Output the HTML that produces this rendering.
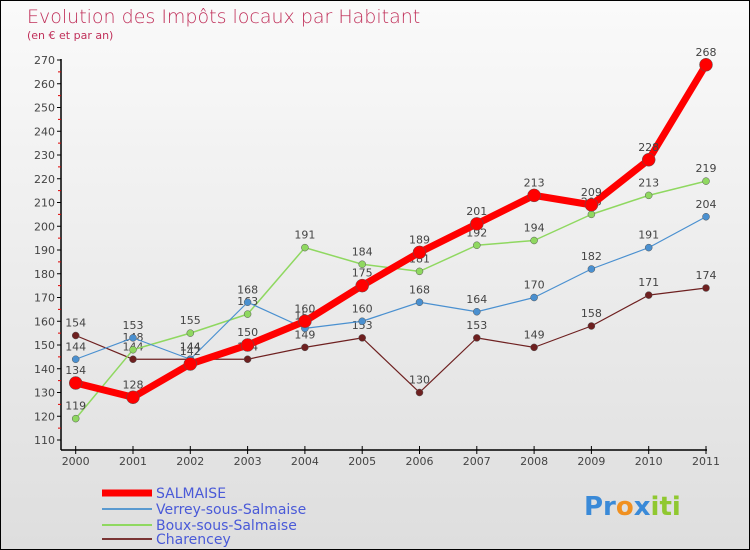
<!DOCTYPE html>
<html><head><meta charset="utf-8"><style>
body{margin:0}
#c{position:relative;width:748px;height:548px;border:1px solid #000;background:linear-gradient(#fafafa,#dedede);font-family:"DejaVu Sans","Liberation Sans",sans-serif;overflow:hidden}
</style></head><body>
<div id="c">
<svg id="s" width="748" height="548" xmlns="http://www.w3.org/2000/svg">
<text x="26" y="22" font-size="19" fill="#c0305a" font-family="DejaVu Sans, sans-serif" font-weight="200">Evolution des Impôts locaux par Habitant</text>
<text x="26" y="38" font-size="11" fill="#c0305a">(en € et par an)</text>
<g id="ax"></g><g id="ser"></g>
<g font-size="14">
<line x1="101" y1="492" x2="151" y2="492" stroke="#f00" stroke-width="7"/><text x="155" y="497" fill="#4a5ad8">SALMAISE</text>
<line x1="101" y1="508" x2="151" y2="508" stroke="#5a9ad0" stroke-width="2"/><text x="155" y="513" fill="#4a5ad8">Verrey-sous-Salmaise</text>
<line x1="101" y1="524" x2="151" y2="524" stroke="#8fd860" stroke-width="2"/><text x="155" y="529" fill="#4a5ad8">Boux-sous-Salmaise</text>
<line x1="101" y1="538" x2="151" y2="538" stroke="#7a3535" stroke-width="2"/><text x="155" y="543" fill="#4a5ad8">Charencey</text>
</g>
<text x="583" y="514" font-size="26" font-weight="bold"><tspan fill="#3a8ad8">Pr</tspan><tspan fill="#f09020">o</tspan><tspan fill="#3a8ad8">x</tspan><tspan fill="#90c830">iti</tspan></text>
</svg></div>
<script>
const years=["2000","2001","2002","2003","2004","2005","2006","2007","2008","2009","2010","2011"];
const yTicks=[110,120,130,140,150,160,170,180,190,200,210,220,230,240,250,260,270];
const salmaise=[134,128,142,150,160,175,189,201,213,209,228,268];
const verrey=[144,153,144,168,157,160,168,164,170,182,191,204];
const boux=[119,148,155,163,191,184,181,192,194,205,213,219];
const charencey=[154,144,144,144,149,153,130,153,149,158,171,174];
const NS="http://www.w3.org/2000/svg";
const X=i=>74.7+i*57.3, Y=v=>439-(v-110)*2.375;
function mk(t,a,p){const e=document.createElementNS(NS,t);for(const k in a)e.setAttribute(k,a[k]);p.appendChild(e);return e;}
const ax=document.getElementById('ax');
let l=mk('line',{x1:60,y1:58,x2:60,y2:449,stroke:'#000','stroke-width':1.5},ax);


l=mk('line',{x1:60,y1:449,x2:706,y2:449,stroke:'#000','stroke-width':1.5},ax);


yTicks.forEach(v=>{mk('line',{x1:56,y1:Y(v),x2:60,y2:Y(v),stroke:'#000'},ax);
 if(v>110)mk('line',{x1:57,y1:Y(v-5),x2:60,y2:Y(v-5),stroke:'#d00'},ax);
 const t=mk('text',{x:54,y:Y(v)+4,'text-anchor':'end','font-size':11,fill:'#444'},ax);t.textContent=v;
 
 });
years.forEach((y,i)=>{mk('line',{x1:X(i),y1:445,x2:X(i),y2:453,stroke:'#000'},ax);
 const t=mk('text',{x:X(i),y:464,'text-anchor':'middle','font-size':11,fill:'#444'},ax);t.textContent=y;
 
 });
const ser=document.getElementById('ser');
function draw(d,col,w,r,name){const g=mk('g',{},ser);
 
 
 mk('polyline',{points:d.map((v,i)=>X(i)+','+Y(v)).join(' '),fill:'none',stroke:col,'stroke-width':w,'stroke-linejoin':'round'},g);
 d.forEach((v,i)=>{const c=mk('circle',{cx:X(i),cy:Y(v),r:r,fill:col,stroke:'#555','stroke-width':0.5},g);
  
  
  const t=mk('text',{x:X(i),y:Y(v)-9,'text-anchor':'middle','font-size':11,fill:'#444'},g);t.textContent=v;
  
  });}
draw(charencey,'#6e2020',1.2,3.5,'series-charencey');
draw(boux,'#8fd860',1.5,3.5,'series-boux');
draw(verrey,'#4a90d0',1.2,3.5,'series-verrey');
draw(salmaise,'#f00',7,6.5,'series-salmaise');
</script>
</body></html>
